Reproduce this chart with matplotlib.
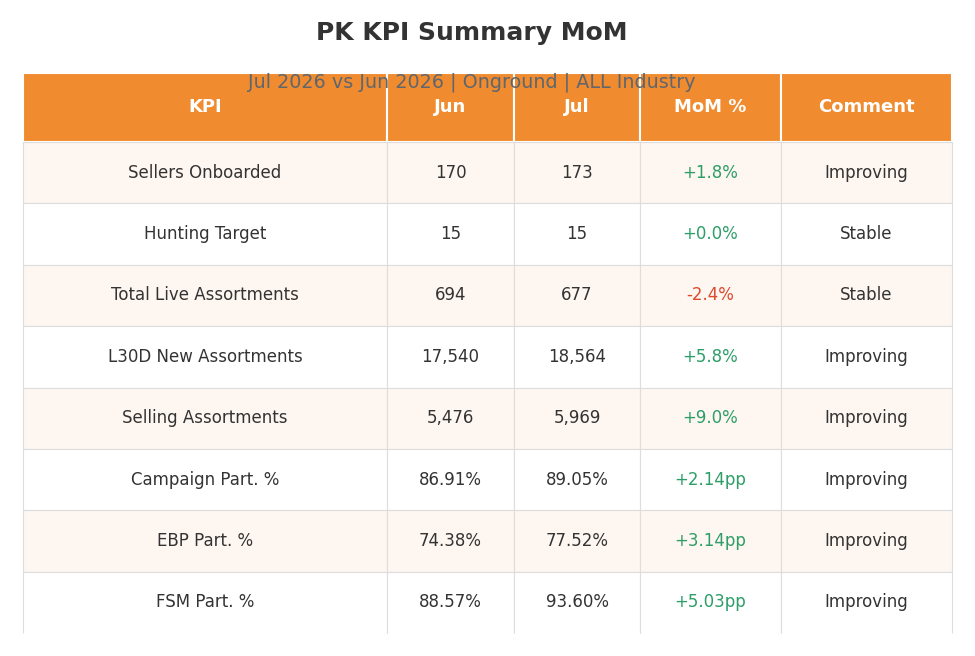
import matplotlib.pyplot as plt

plt.rcParams['font.family'] = ['DejaVu Sans']

# table data
columns = ['KPI', 'Jun', 'Jul', 'MoM %', 'Comment']
kpis = ['Sellers Onboarded', 'Hunting Target', 'Total Live Assortments',
        'L30D New Assortments', 'Selling Assortments', 'Campaign Part. %',
        'EBP Part. %', 'FSM Part. %']
jun = ['170', '15', '694', '17,540', '5,476', '86.91%', '74.38%', '88.57%']
jul = ['173', '15', '677', '18,564', '5,969', '89.05%', '77.52%', '93.60%']
mom = ['+1.8%', '+0.0%', '-2.4%', '+5.8%', '+9.0%', '+2.14pp', '+3.14pp', '+5.03pp']
comments = ['Improving', 'Stable', 'Stable', 'Improving', 'Improving',
            'Improving', 'Improving', 'Improving']

ORANGE = '#F08C2F'
STRIPE = '#FEF6F0'
GREEN = '#2E9E68'
RED = '#DD4A2E'
TEXT = '#333333'
EDGE = '#DDDDDD'

W, H = 975, 656
fig = plt.figure(figsize=(W / 100, H / 100), dpi=100)
ax = fig.add_axes([0, 0, 1, 1])
ax.axis('off')

rows = [[k, a, b, m, c] for k, a, b, m, c in zip(kpis, jun, jul, mom, comments)]
col_px = [364, 127, 126, 141, 171]
tot = sum(col_px)

left, right, top, bottom = 23, 952, 73, 633
tbl = ax.table(cellText=rows, colLabels=columns, cellLoc='center',
               colWidths=[c / tot for c in col_px],
               bbox=[left / W, 1 - bottom / H, (right - left) / W, (bottom - top) / H])
tbl.auto_set_font_size(False)

head_h = 69
row_h = (bottom - top - head_h) / len(rows)
for (r, c), cell in tbl.get_celld().items():
    if r == 0:
        cell.set_height(head_h)
        cell.set_facecolor(ORANGE)
        cell.set_edgecolor('white')
        cell.set_linewidth(1.5)
        cell.get_text().set_color('white')
        cell.get_text().set_fontweight('bold')
        cell.get_text().set_fontsize(13)
    else:
        cell.set_height(row_h)
        cell.set_facecolor(STRIPE if r % 2 == 1 else 'white')
        cell.set_edgecolor(EDGE)
        cell.set_linewidth(0.8)
        cell.get_text().set_fontsize(12)
        cell.get_text().set_color(TEXT)
        if c == 3:
            val = mom[r - 1]
            cell.get_text().set_color(RED if val.startswith('-') else GREEN)
        if r == len(rows):
            cell.visible_edges = 'LRT'

fig.text(472 / W, 1 - 33 / H, 'PK KPI Summary MoM', ha='center', va='center',
         fontsize=18, fontweight='bold', color=TEXT)
fig.text(472 / W, 1 - 82 / H, 'Jul 2026 vs Jun 2026 | Onground | ALL Industry',
         ha='center', va='center', fontsize=13.8, color='#5F666D', zorder=10)

fig.savefig('out.png', dpi=100)
